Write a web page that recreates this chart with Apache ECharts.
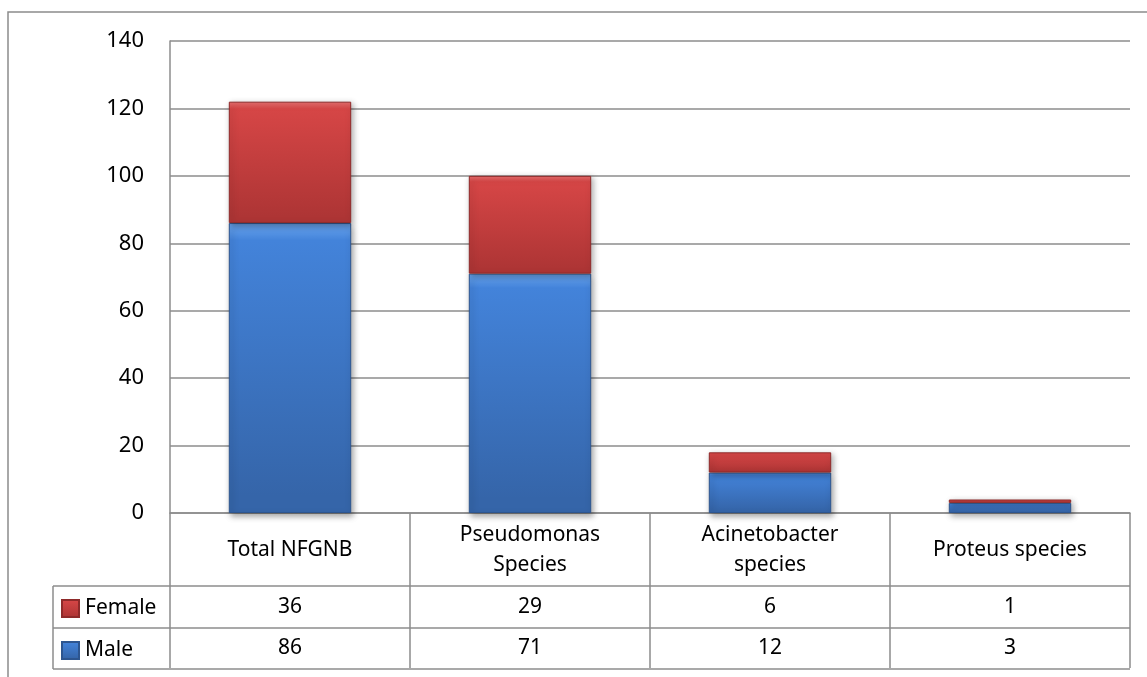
<!DOCTYPE html>
<html>
<head>
<meta charset="utf-8">
<title>NFGNB isolates by sex</title>
<script src="https://cdn.jsdelivr.net/npm/echarts@6/dist/echarts.min.js"></script>
<style>
  html, body { margin: 0; padding: 0; background: #ffffff; }
  #chart { width: 1147px; height: 677px; }
</style>
</head>
<body>
<div id="chart"></div>
<script>
// Isolate counts per organism group, split by patient sex
const categories = ['Total NFGNB', 'Pseudomonas\nSpecies', 'Acinetobacter\nspecies', 'Proteus species'];
const maleValues = [86, 71, 12, 3];
const femaleValues = [36, 29, 6, 1];
const seriesNames = ['Male', 'Female'];
const yTicks = { min: 0, max: 140, step: 20 };

const FONT = 'Noto Sans';
const GRID = '#8c8c8c';

function faceGradient(top, mid, bottom) {
  return new echarts.graphic.LinearGradient(0, 0, 0, 1, [
    { offset: 0, color: top },
    { offset: 0.06, color: mid },
    { offset: 0.94, color: bottom },
    { offset: 1, color: bottom }
  ]);
}

const blueFace = faceGradient('#6aa6ef', '#4383da', '#3565a9');
const redFace = faceGradient('#e87070', '#d64646', '#ae3535');

const chart = echarts.init(document.getElementById('chart'), null, { renderer: 'canvas' });

// text row under the plot: one category axis per table row
function tableRowAxis(values, margin) {
  return {
    type: 'category',
    gridIndex: 0,
    position: 'bottom',
    data: values.map(String),
    axisLine: { show: false },
    axisTick: { show: false },
    axisLabel: {
      interval: 0,
      margin: margin,
      verticalAlign: 'middle',
      fontFamily: FONT,
      fontSize: 21,
      color: '#000'
    }
  };
}

function legendRow(name, top) {
  return {
    data: [name], left: 61, top: top, padding: 0,
    itemWidth: 17, itemHeight: 17, icon: 'rect',
    textStyle: { fontFamily: FONT, fontSize: 21, color: '#000', padding: [0, 0, 0, 1] }
  };
}

const option = {
  animation: false,
  backgroundColor: '#ffffff',
  grid: { left: 170, top: 41, width: 960, height: 472, containLabel: false },
  legend: [legendRow('Female', 598), legendRow('Male', 640)],
  xAxis: [
    {
      type: 'category',
      data: categories,
      boundaryGap: true,
      axisLine: { show: true, lineStyle: { color: GRID, width: 1.5 } },
      axisTick: { show: true, interval: 0, length: 155, lineStyle: { color: GRID, width: 1.5 } },
      axisLabel: {
        interval: 0,
        margin: 37,
        verticalAlign: 'middle',
        lineHeight: 30,
        fontFamily: FONT,
        fontSize: 21,
        color: '#000'
      }
    },
    tableRowAxis(femaleValues, 94),
    tableRowAxis(maleValues, 135)
  ],
  yAxis: {
    type: 'value',
    min: yTicks.min,
    max: yTicks.max,
    interval: yTicks.step,
    axisLine: { show: true, lineStyle: { color: GRID, width: 1.5 } },
    axisTick: { show: false },
    splitLine: { show: true, lineStyle: { color: GRID, width: 1.5 } },
    axisLabel: { margin: 26, fontFamily: FONT, fontSize: 22, color: '#000' }
  },
  series: [
    {
      name: seriesNames[0],
      type: 'bar',
      stack: 'sex',
      xAxisIndex: 0,
      barWidth: '51%',
      data: maleValues,
      itemStyle: {
        color: blueFace,
        borderColor: '#2d558f',
        borderWidth: 1,
        shadowColor: 'rgba(0,0,0,0.35)',
        shadowBlur: 6,
        shadowOffsetX: 2,
        shadowOffsetY: 3
      }
    },
    {
      name: seriesNames[1],
      type: 'bar',
      stack: 'sex',
      xAxisIndex: 0,
      barWidth: '51%',
      data: femaleValues,
      itemStyle: {
        color: redFace,
        borderColor: '#8e2a2a',
        borderWidth: 1,
        shadowColor: 'rgba(0,0,0,0.3)',
        shadowBlur: 6,
        shadowOffsetX: 2,
        shadowOffsetY: 2
      }
    }
  ],
  graphic: [
    // outer chart frame
    { type: 'rect', silent: true, shape: { x: 8, y: 12, width: 1200, height: 720 },
      style: { fill: 'none', stroke: '#8c8c8c', lineWidth: 1.5 } },
    // data table row rules
    { type: 'line', silent: true, shape: { x1: 53, y1: 586, x2: 1130, y2: 586 }, style: { stroke: GRID, lineWidth: 1.5 } },
    { type: 'line', silent: true, shape: { x1: 53, y1: 628, x2: 1130, y2: 628 }, style: { stroke: GRID, lineWidth: 1.5 } },
    { type: 'line', silent: true, shape: { x1: 53, y1: 669, x2: 1130, y2: 669 }, style: { stroke: GRID, lineWidth: 1.5 } },
    { type: 'line', silent: true, shape: { x1: 53, y1: 586, x2: 53, y2: 669 }, style: { stroke: GRID, lineWidth: 1.5 } }
  ]
};

chart.setOption(option);
</script>
</body>
</html>
